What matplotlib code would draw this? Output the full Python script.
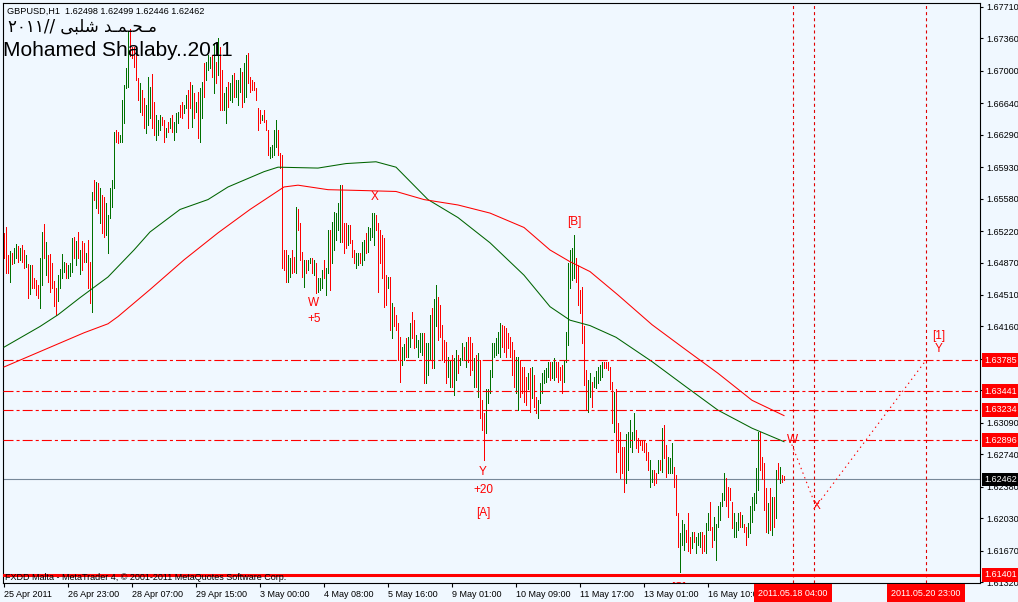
import numpy as np
import matplotlib
matplotlib.use("Agg")
import matplotlib.pyplot as plt
import matplotlib.transforms as mtrans

plt.rcParams['font.family'] = ['Liberation Sans', 'DejaVu Sans']
plt.rcParams['lines.scale_dashes'] = False

# ---------------- data ----------------
title_line = "GBPUSD,H1  1.62498 1.62499 1.62446 1.62462"
arabic_line = "\u0662\u0660\u0661\u0661// \uFEF0\uFE92\uFEE0\uFEB7 \uFEAA\u0640\uFEE4\u0640\uFEA4\u0640\uFEE3"
author_line = "Mohamed Shalaby..2011"
footer_line = "FXDD Malta - MetaTrader 4, \u00a9 2001-2011 MetaQuotes Software Corp."

# hourly bars, prices given in pips above 1.6000
bar_high_pips = [
    520, 527, 495, 500, 498, 503, 508, 505, 503, 507,
    501, 495, 485, 484, 484, 470, 468, 462, 492, 521,
    530, 510, 495, 497, 487, 467, 459, 473, 480, 497,
    488, 487, 484, 487, 514, 515, 511, 521, 501, 511,
    509, 498, 512, 488, 565, 579, 577, 575, 570, 562,
    560, 553, 540, 570, 579, 632, 634, 632, 629, 668,
    684, 703, 743, 746, 727, 727, 726, 692, 687, 679,
    670, 662, 693, 682, 697, 665, 651, 645, 651, 649,
    645, 637, 643, 648, 651, 643, 653, 654, 662, 665,
    662, 673, 679, 688, 684, 675, 665, 677, 681, 688,
    709, 710, 718, 715, 718, 731, 710, 737, 726, 701,
    675, 682, 688, 687, 695, 698, 690, 690, 703, 699,
    709, 718, 720, 693, 690, 688, 681, 659, 657, 651,
    657, 645, 634, 615, 618, 634, 645, 634, 609, 607,
    501, 501, 495, 492, 501, 493, 549, 546, 531, 499,
    490, 490, 490, 492, 492, 490, 487, 470, 470, 479,
    490, 481, 523, 523, 532, 543, 542, 553, 573, 573,
    531, 531, 529, 529, 512, 501, 498, 498, 498, 510,
    512, 520, 527, 525, 542, 542, 540, 531, 523, 518,
    514, 473, 471, 471, 442, 438, 429, 420, 404, 393,
    396, 403, 404, 420, 432, 423, 407, 401, 409, 409,
    409, 398, 398, 429, 437, 446, 462, 449, 440, 418,
    401, 399, 382, 379, 384, 381, 390, 384, 381, 398,
    393, 399, 404, 404, 398, 381, 384, 387, 379, 334,
    320, 347, 347, 368, 398, 398, 403, 410, 420, 418,
    416, 414, 409, 404, 399, 390, 382, 382, 379, 371,
    371, 360, 364, 370, 371, 362, 338, 334, 353, 364,
    368, 370, 376, 376, 377, 381, 377, 376, 371, 373,
    379, 410, 487, 501, 503, 518, 492, 484, 457, 460,
    416, 368, 357, 364, 354, 360, 366, 371, 373, 377,
    377, 377, 377, 371, 354, 343, 346, 309, 299, 282,
    282, 296, 299, 312, 299, 320, 301, 292, 290, 290,
    290, 286, 276, 268, 257, 257, 253, 268, 268, 303,
    307, 284, 271, 270, 286, 260, 251, 209, 187, 201,
    196, 190, 209, 182, 188, 188, 182, 187, 188, 188,
    184, 198, 209, 221, 193, 204, 196, 216, 221, 231,
    253, 248, 238, 237, 221, 209, 199, 209, 210, 207,
    196, 193, 198, 216, 227, 231, 259, 299, 299, 271,
    264, 237, 220, 237, 227, 227, 257, 264, 260, 251,
    250,
]
bar_low_pips = [
    492, 475, 475, 465, 485, 487, 492, 488, 490, 488,
    481, 482, 448, 452, 459, 459, 451, 448, 437, 462,
    492, 473, 465, 454, 459, 439, 429, 444, 459, 470,
    477, 470, 470, 472, 477, 492, 484, 492, 474, 479,
    488, 488, 459, 442, 432, 557, 548, 542, 531, 520,
    515, 518, 498, 537, 549, 570, 621, 620, 621, 621,
    642, 681, 682, 716, 714, 704, 690, 668, 654, 651,
    637, 631, 640, 648, 637, 629, 623, 629, 634, 640,
    621, 627, 632, 637, 632, 623, 632, 642, 649, 648,
    653, 659, 637, 659, 638, 648, 654, 625, 621, 648,
    671, 690, 701, 703, 693, 675, 687, 695, 657, 657,
    657, 642, 660, 668, 665, 671, 671, 662, 677, 660,
    665, 671, 687, 677, 679, 679, 668, 634, 642, 645,
    643, 634, 607, 603, 604, 607, 615, 607, 592, 481,
    479, 465, 465, 471, 475, 477, 475, 523, 490, 471,
    460, 475, 479, 487, 475, 473, 453, 454, 457, 459,
    470, 451, 475, 457, 487, 501, 512, 523, 510, 510,
    498, 503, 507, 509, 493, 487, 481, 484, 487, 484,
    490, 498, 499, 512, 515, 507, 523, 454, 487, 470,
    438, 440, 459, 412, 403, 416, 412, 379, 354, 373,
    379, 382, 382, 393, 403, 392, 393, 382, 388, 384,
    353, 353, 362, 379, 370, 370, 416, 401, 404, 379,
    376, 353, 360, 349, 349, 340, 357, 364, 373, 379,
    379, 371, 377, 362, 368, 349, 349, 338, 314, 301,
    268, 298, 331, 342, 360, 382, 384, 387, 382, 393,
    388, 382, 392, 382, 362, 349, 342, 323, 338, 342,
    332, 329, 346, 321, 337, 327, 320, 314, 331, 342,
    353, 354, 360, 357, 359, 357, 360, 354, 357, 342,
    354, 376, 395, 459, 468, 470, 465, 440, 431, 398,
    351, 323, 321, 338, 327, 349, 348, 353, 357, 360,
    370, 370, 368, 346, 309, 299, 254, 276, 248, 253,
    232, 242, 257, 282, 276, 290, 281, 276, 284, 279,
    276, 268, 257, 238, 243, 240, 242, 253, 257, 254,
    270, 249, 253, 253, 253, 238, 207, 171, 143, 173,
    168, 176, 166, 164, 170, 177, 164, 173, 171, 164,
    166, 164, 190, 190, 171, 179, 157, 193, 201, 216,
    223, 216, 204, 223, 192, 182, 182, 190, 193, 193,
    188, 173, 182, 187, 199, 212, 220, 234, 257, 246,
    212, 188, 187, 190, 184, 193, 203, 246, 242, 243,
    245,
]
# u = bullish bar, d = bearish bar, ten bars per group
bar_direction = [
    "ddduduudud", "dududddduu", "duddddduuu", "uduuududud", "duddududud",
    "duuuuudduu", "uuudddddud", "duuudduuud", "dududuuudd", "uuddududuu",
    "duuudududd", "uuduuduuud", "uudddddddu", "ddduuuuddd", "dduudduddd",
    "uduududuuu", "duuduuuuud", "dduddduudu", "uduuuudddd", "ddududdddu",
    "uduudduuuu", "duuuduuddd", "dduuduuduu", "dudddududd", "duuuuuuuud",
    "dddddduudd", "ddududduuu", "uuuduudddd", "uuuuuudddd", "dduuduuuuu",
    "dddddudddd", "duuuuudddd", "ddduuddudu", "dduuuddduu", "uddduduuud",
    "duudduuuuu", "udddduuudu", "dduuuuuudd", "ddudududud", "d",
]

# moving averages sampled along the line (bar index, pips above 1.6000)
green_ma_idx = [0, 18, 27, 38, 52, 65, 73, 88, 102, 112, 130, 137, 157, 171, 186,
                196, 212, 227, 243, 260, 273, 283, 293, 306, 324, 341, 357, 374, 390]
green_ma_pips = [393, 416, 429, 448, 471, 501, 521, 546, 557, 571, 588, 593, 592, 597, 599,
                 593, 557, 537, 509, 473, 438, 423, 417, 404, 377, 349, 323, 303, 288]
red_ma_idx = [0, 20, 40, 52, 57, 73, 90, 107, 123, 140, 147, 162, 180, 196, 210,
              227, 243, 260, 273, 283, 293, 307, 324, 341, 357, 374, 390]
red_ma_pips = [371, 390, 409, 419, 427, 457, 490, 520, 546, 571, 573, 568, 567, 566, 557,
               551, 542, 526, 501, 488, 477, 451, 418, 390, 364, 334, 317]

level_prices = [1.63785, 1.63441, 1.63234, 1.62896]
support_price = 1.61401
bid_price = 1.62462

ytick_values = [1.67710, 1.67360, 1.67000, 1.66640, 1.66290, 1.65930, 1.65580, 1.65220,
                1.64870, 1.64510, 1.64160, 1.63800, 1.63450, 1.63090, 1.62740, 1.62380,
                1.62030, 1.61670, 1.61320]
hidden_ytick_values = [1.63800, 1.63450]   # covered by the level boxes
xtick_idx = [0, 32, 64, 96, 128, 160, 192, 224, 256, 288, 320, 352, 384]
xtick_labels = ["25 Apr 2011", "26 Apr 23:00", "28 Apr 07:00", "29 Apr 15:00", "3 May 00:00",
                "4 May 08:00", "5 May 16:00", "9 May 01:00", "10 May 09:00", "11 May 17:00",
                "13 May 01:00", "16 May 10:00", ""]

vline_idx = [394.5, 405, 461]
vline_time_labels = [(394.5, "2011.05.18 04:00"), (461, "2011.05.20 23:00")]

wave_idx = [393, 406, 461]
wave_price = [1.6290, 1.6216, 1.63785]

wave_labels = [
    ("W", 155, 1.6442), ("+5", 155, 1.6424), ("X", 185.5, 1.6560),
    ("Y", 239.5, 1.6254), ("+20", 239.5, 1.6234), ("[A]", 239.5, 1.6209),
    ("[B]", 285, 1.6532), ("[C]", 337.5, 1.6126),
    ("W", 394.5, 1.62896), ("X", 406.5, 1.6216),
    ("[1]", 467.5, 1.6405), ("Y", 467.5, 1.6391),
]

# ---------------- style ----------------
BG = "#F0F8FF"
UP = "#007000"
DOWN = "#FF0000"
MA_GREEN = "#006400"
MA_RED = "#FF0000"

W, H = 1018, 602
fig = plt.figure(figsize=(W / 100, H / 100), dpi=100, facecolor=BG)
ax = fig.add_axes([3 / W, 19 / H, 977 / W, 580 / H], facecolor=BG)
ax.set_xlim(-0.5, 488)
ax.set_ylim(1.61310, 1.67754)

dirs = "".join(bar_direction)
n = len(bar_high_pips)
idx = np.arange(n)
highs = 1.6 + np.array(bar_high_pips) / 1e4
lows = 1.6 + np.array(bar_low_pips) / 1e4
cols = [UP if dirs[i] == "u" else DOWN for i in range(n)]
ax.vlines(idx, lows, highs, colors=cols, lw=0.6, antialiased=False, zorder=3)

ax.plot(green_ma_idx, 1.6 + np.array(green_ma_pips) / 1e4, color=MA_GREEN, lw=0.75, zorder=3)
ax.plot(red_ma_idx, 1.6 + np.array(red_ma_pips) / 1e4, color=MA_RED, lw=0.75, zorder=3)

dashdot = (0, (7.2, 2.2, 2.2, 2.2))
for p in level_prices:
    ax.axhline(p, color="#FF0000", lw=0.8, ls=dashdot, zorder=4)
ax.axhline(support_price, color="#FF0000", lw=2.2, zorder=6)
ax.axhline(bid_price, color="#778899", lw=0.8, zorder=2)

for v in vline_idx:
    ax.axvline(v, color="#E00000", lw=0.8, ls=(0, (2.2, 2.2)), zorder=4)

ax.plot(wave_idx, wave_price, color="#FF0000", lw=0.8, ls=(0, (1.0, 2.6)), zorder=4)

for txt, i, p in wave_labels:
    ax.text(i, p, txt, color="#FF0000", fontsize=8.5, ha="center", va="center",
            zorder=7, clip_on=True)

# frame & axes
for s in ax.spines.values():
    s.set_color("black")
    s.set_linewidth(0.8)
ax.yaxis.tick_right()
ax.set_yticks(ytick_values)
ax.set_yticklabels(["" if v in hidden_ytick_values else "%.5f" % v for v in ytick_values])
ax.tick_params(axis="y", direction="out", length=2.5, width=0.8, labelsize=6.5, pad=2,
               colors="black")
ax.set_xticks(xtick_idx)
ax.set_xticklabels(xtick_labels)
ax.tick_params(axis="x", direction="out", length=3, width=0.8, labelsize=6.5, pad=2,
               colors="black")
for lab in ax.get_xticklabels():
    lab.set_ha("left")

ytrans = mtrans.blended_transform_factory(ax.transAxes, ax.transData)
xtrans = mtrans.blended_transform_factory(ax.transData, ax.transAxes)
box_x = 1 + 4 / 977
for p in level_prices + [support_price]:
    ax.text(box_x, p, "%.5f" % p, transform=ytrans, color="white", fontsize=6.5,
            ha="left", va="center", clip_on=False, zorder=10,
            bbox=dict(boxstyle="square,pad=0.25", fc="#FF0000", ec="none"))
ax.text(box_x, bid_price, "%.5f" % bid_price, transform=ytrans, color="white", fontsize=6.5,
        ha="left", va="center", clip_on=False, zorder=10,
        bbox=dict(boxstyle="square,pad=0.25", fc="black", ec="none"))

for v, lab in vline_time_labels:
    ax.text(v, -10 / 580, lab, transform=xtrans, color="white", fontsize=6.5,
            ha="center", va="center", clip_on=False, zorder=10,
            bbox=dict(boxstyle="square,pad=0.45", fc="#FF0000", ec="none"))

# texts
fig.text(7 / W, 1 - 11 / H, title_line, fontsize=6.6, ha="left", va="center", color="black")
fig.text(8 / W, 1 - 27 / H, arabic_line, fontsize=12, ha="left", va="center", color="black",
         family=["DejaVu Sans"])
fig.text(3 / W, 1 - 50 / H, author_line, fontsize=15, ha="left", va="center", color="black")
fig.text(5 / W, 1 - 577 / H, footer_line, fontsize=6.5, ha="left", va="center", color="black",
         zorder=1)

fig.savefig("out.png", dpi=100, facecolor=BG)
